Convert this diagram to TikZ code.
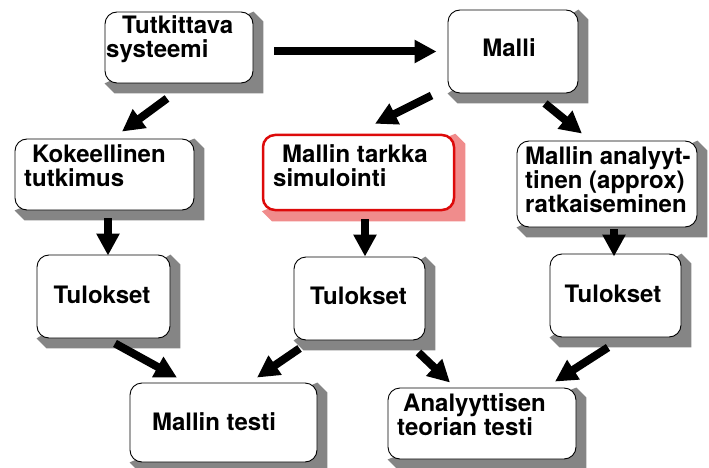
\documentclass[tikz,border=0pt]{standalone}
\usepackage{fontspec}
\setmainfont{TeX Gyre Heros}
\usetikzlibrary{arrows.meta,backgrounds}
\definecolor{shadowgray}{HTML}{858585}
\definecolor{shadowpink}{HTML}{F08C8C}
\definecolor{boxred}{HTML}{DD0A0A}
\tikzset{
  box/.style={draw=black, line width=0.9pt, rounded corners=12pt, fill=white, inner sep=0pt},
  redbox/.style={box, draw=boxred, line width=2.5pt},
  txt/.style={font=\bfseries\fontsize{24}{24}\selectfont, inner sep=0pt, align=left},
  arr/.style={line width=8pt, -{Triangle[length=22pt,width=22pt]}},
}
\begin{document}
\begin{tikzpicture}[x=1pt,y=-1pt]
    \useasboundingbox (0,0) rectangle (709,468);

    % boxes
    \node[box, minimum width=148, minimum height=71] (sys) at (179,47.5) {};
    \node[box, minimum width=130, minimum height=83] (malli) at (513,51.5) {};
    \node[box, minimum width=179, minimum height=71] (koe) at (104.5,174.5) {};
    \node[redbox, minimum width=191, minimum height=75] (sim) at (358.5,172.5) {};
    \node[box, minimum width=180, minimum height=86] (ana) at (607,184) {};
    \node[box, minimum width=133, minimum height=83] (tul1) at (103.5,296.5) {};
    \node[box, minimum width=131, minimum height=83] (tul2) at (359.5,298.5) {};
    \node[box, minimum width=131, minimum height=83] (tul3) at (615.5,295.5) {};
    \node[box, minimum width=187, minimum height=79] (testi) at (223.5,422.5) {};
    \node[box, minimum width=188, minimum height=71] (teoria) at (482,423.5) {};

    % shadows
    \begin{pgfonlayer}{background}
    \foreach \n/\c in {sys/shadowgray, malli/shadowgray, koe/shadowgray, sim/shadowpink,
        ana/shadowgray, tul1/shadowgray, tul2/shadowgray, tul3/shadowgray,
        testi/shadowgray, teoria/shadowgray}
      \fill[\c] (\n.south west) -- ++(10,10) -- ([shift={(10,10)}]\n.south east)
        -- ([shift={(10,10)}]\n.north east) -- (\n.north east) -- cycle;
    \end{pgfonlayer}

    % texts
    \node[txt, anchor=north west] (sysT) at (106,15) {\hspace*{16pt}Tutkittava\\systeemi};
    \node[txt, anchor=base] (malliT) at (509,57) {Malli};
    \node[txt, anchor=north west] (koeT) at (24,144) {\hspace*{8pt}Kokeellinen\\tutkimus};
    \node[txt, anchor=north west] (simT) at (273,144) {\hspace*{9pt}Mallin tarkka\\simulointi};
    \node[txt, anchor=north west] (anaT) at (525,146) {Mallin analyyt-\\tinen (approx)\\ratkaiseminen};
    \node[txt, anchor=base] (tul1T) at (102,303) {Tulokset};
    \node[txt, anchor=base] (tul2T) at (358.5,304) {Tulokset};
    \node[txt, anchor=base] (tul3T) at (613,302) {Tulokset};
    \node[txt, anchor=base] (testiT) at (214,430) {Mallin testi};
    \node[txt, anchor=north west] (teoriaT) at (397,393) {\hspace*{6pt}Analyyttisen\\teorian testi};

    % arrows
    \draw[arr] ([shift={(21,0)}]sys.east |- malli.west) -- ([shift={(-11,0)}]malli.west);
    \draw[arr] ([shift={(-12,15)}]sys.south) -- ([shift={(17.5,-7)}]koe.north);
    \draw[arr] ([shift={(-16,2)}]malli.south west) -- ([shift={(16.5,-10)}]sim.north);
    \draw[arr] ([shift={(32,10)}]malli.south) -- ([shift={(-25,-7)}]ana.north);
    \draw[arr] ([shift={(3.5,8)}]koe.south) -- ([shift={(4.5,1)}]tul1.north);
    \draw[arr] ([shift={(6.5,8)}]sim.south) -- ([shift={(5.5,0)}]tul2.north);
    \draw[arr] ([shift={(7,2)}]ana.south) -- ([shift={(-1.5,3)}]tul3.north);
    \draw[arr] ([shift={(11.5,5)}]tul1.south) -- ([shift={(-46.5,-5)}]testi.north);
    \draw[arr] ([shift={(6,8)}]tul2.south west) -- ([shift={(33.5,-5)}]testi.north);
    \draw[arr] ([shift={(-7,12)}]tul2.south east) -- ([shift={(-32,-5)}]teoria.north);
    \draw[arr] ([shift={(-7.5,10)}]tul3.south) -- ([shift={(73,-6)}]teoria.north);
\end{tikzpicture}
\end{document}
